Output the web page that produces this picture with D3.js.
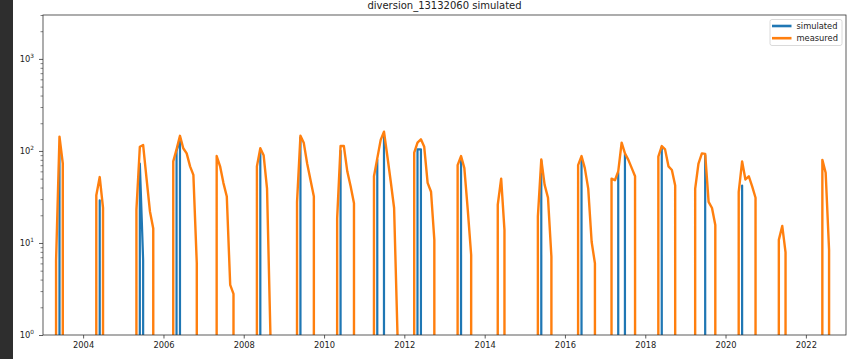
<!DOCTYPE html>
<html>
<head>
<meta charset="utf-8">
<script src="https://cdn.jsdelivr.net/npm/d3@7"></script>
<style>
  body { margin: 0; background: #fff; }
  svg { display: block; }
  text { font-family: "DejaVu Sans", sans-serif; fill: #222; }
</style>
</head>
<body>
<svg id="chart" width="852" height="359"></svg>
<script>
// ---- data -------------------------------------------------------------
const chartTitle = "diversion_13132060 simulated";
const seriesNames = ["simulated", "measured"];
const seriesColors = ["#1f77b4", "#ff7f0e"];
const xTickYears = [2004, 2006, 2008, 2010, 2012, 2014, 2016, 2018, 2020, 2022];
const yMajorTicks = [1, 10, 100, 1000];
const yTickExponents = ["0", "1", "2", "3"];
const yMinorTicks = [2,3,4,5,6,7,8,9, 20,30,40,50,60,70,80,90, 200,300,400,500,600,700,800,900, 2000,3000];

// monthly totals (month-end dates); 0 = no diversion that month
const simulated = [
  ["2003-04-30",0],["2003-05-31",110],["2003-06-30",0],
  ["2004-04-30",0],["2004-05-31",29],["2004-06-30",0],
  ["2005-04-30",0],["2005-05-31",73],["2005-06-30",6.5],["2005-07-31",0],
  ["2006-03-31",0],["2006-04-30",100],["2006-05-31",135],["2006-06-30",0],
  ["2008-04-30",0],["2008-05-31",98],["2008-06-30",0],
  ["2009-04-30",0],["2009-05-31",140],["2009-06-30",0],
  ["2010-04-30",0],["2010-05-31",100],["2010-06-30",0],
  ["2011-03-31",0],["2011-04-30",80],["2011-05-31",0],["2011-06-30",150],["2011-07-31",0],
  ["2012-03-31",0],["2012-04-30",104],["2012-05-31",104],["2012-06-30",0],
  ["2013-04-30",0],["2013-05-31",80],["2013-06-30",0],
  ["2015-04-30",0],["2015-05-31",78],["2015-06-30",0],
  ["2016-04-30",0],["2016-05-31",80],["2016-06-30",0],
  ["2017-03-31",0],["2017-04-30",58],["2017-05-31",0],["2017-06-30",92],["2017-07-31",0],
  ["2018-04-30",0],["2018-05-31",110],["2018-06-30",0],
  ["2019-05-31",0],["2019-06-30",90],["2019-07-31",0],
  ["2020-04-30",0],["2020-05-31",42],["2020-06-30",0]
];

const measured = [
  ["2003-03-31",0],["2003-04-30",6.5],["2003-05-31",143],["2003-06-30",73],["2003-07-31",0],
  ["2004-03-31",0],["2004-04-30",33],["2004-05-31",52],["2004-06-30",24],["2004-07-31",0],
  ["2005-03-31",0],["2005-04-30",23],["2005-05-31",111],["2005-06-30",116],["2005-07-31",50],["2005-08-31",22],["2005-09-30",14.4],["2005-10-31",0],
  ["2006-02-28",0],["2006-03-31",77],["2006-04-30",104],["2006-05-31",146],["2006-06-30",107],["2006-07-31",94],["2006-08-31",68],["2006-09-30",55],["2006-10-31",6],["2006-11-30",0],
  ["2007-03-31",0],["2007-04-30",88],["2007-05-31",68],["2007-06-30",45],["2007-07-31",32],["2007-08-31",3.5],["2007-09-30",2.8],["2007-10-31",0],
  ["2008-03-31",0],["2008-04-30",68],["2008-05-31",107],["2008-06-30",90],["2008-07-31",39],["2008-08-31",1.0],["2008-09-30",0],
  ["2009-03-31",0],["2009-04-30",28],["2009-05-31",146],["2009-06-30",123],["2009-07-31",73],["2009-08-31",48],["2009-09-30",32],["2009-10-31",0],
  ["2010-03-31",0],["2010-04-30",18.5],["2010-05-31",113],["2010-06-30",113],["2010-07-31",60],["2010-08-31",41],["2010-09-30",27],["2010-10-31",0],
  ["2011-02-28",0],["2011-03-31",53],["2011-04-30",83],["2011-05-31",132],["2011-06-30",162],["2011-07-31",87],["2011-08-31",46],["2011-09-30",24],["2011-10-31",1.0],["2011-11-30",0],
  ["2012-02-29",0],["2012-03-31",96],["2012-04-30",123],["2012-05-31",134],["2012-06-30",111],["2012-07-31",45],["2012-08-31",36],["2012-09-30",10.8],["2012-10-31",0],
  ["2013-03-31",0],["2013-04-30",70],["2013-05-31",88],["2013-06-30",65],["2013-07-31",23],["2013-08-31",7.4],["2013-09-30",0],
  ["2014-03-31",0],["2014-04-30",26],["2014-05-31",50],["2014-06-30",13.8],["2014-07-31",0],
  ["2015-03-31",0],["2015-04-30",19.3],["2015-05-31",81],["2015-06-30",43],["2015-07-31",31],["2015-08-31",7.1],["2015-09-30",0],
  ["2016-03-31",0],["2016-04-30",70],["2016-05-31",88],["2016-06-30",65],["2016-07-31",39],["2016-08-31",10.3],["2016-09-30",6.0],["2016-10-31",0],
  ["2017-01-31",0],["2017-02-28",50],["2017-03-31",48],["2017-04-30",60],["2017-05-31",123],["2017-06-30",94],["2017-07-31",80],["2017-08-31",65],["2017-09-30",53],["2017-10-31",0],
  ["2018-03-31",0],["2018-04-30",87],["2018-05-31",113],["2018-06-30",104],["2018-07-31",68],["2018-08-31",62],["2018-09-30",42],["2018-10-31",0],
  ["2019-02-28",0],["2019-03-31",39],["2019-04-30",73],["2019-05-31",94],["2019-06-30",93],["2019-07-31",28],["2019-08-31",24],["2019-09-30",15.7],["2019-10-31",0],
  ["2020-03-31",0],["2020-04-30",36],["2020-05-31",77],["2020-06-30",49],["2020-07-31",53],["2020-08-31",41],["2020-09-30",31],["2020-10-31",0],
  ["2021-03-31",0],["2021-04-30",10.8],["2021-05-31",15.3],["2021-06-30",7.9],["2021-07-31",0],
  ["2022-04-30",0],["2022-05-31",80],["2022-06-30",58],["2022-07-31",8.4],["2022-08-31",0]
];

// ---- layout -----------------------------------------------------------
const svg = d3.select("#chart");
const W = 852, H = 359;
const plot = { left: 43, right: 846, top: 15, bottom: 335 };
const parse = d3.utcParse("%Y-%m-%d");

const x = d3.scaleUtc()
  .domain([Date.UTC(2003, 0, 1), Date.UTC(2023, 0, 1)])
  .range([plot.left, plot.right]);
const y = d3.scaleLog()
  .domain([1, 3000])
  .range([plot.bottom, plot.top]);

// non-positive values are pushed far below the axis, as a log plot clips them
const yVal = v => v > 0 ? y(v) : y(1e-300);

svg.append("rect").attr("width", W).attr("height", H).attr("fill", "#fff");
// dark editor gutter along the left edge
svg.append("rect").attr("x", 0).attr("y", 0).attr("width", 13).attr("height", H).attr("fill", "#2e2e2e");

svg.append("clipPath").attr("id", "plotClip")
  .append("rect")
  .attr("x", plot.left).attr("y", plot.top)
  .attr("width", plot.right - plot.left).attr("height", plot.bottom - plot.top);

// ---- series lines -----------------------------------------------------
const line = d3.line()
  .x(d => x(parse(d[0])))
  .y(d => yVal(d[1]));

const lines = svg.append("g").attr("clip-path", "url(#plotClip)");
[simulated, measured].forEach((data, i) => {
  lines.append("path")
    .attr("d", line(data))
    .attr("fill", "none")
    .attr("stroke", seriesColors[i])
    .attr("stroke-width", i === 0 ? 2.2 : 2.4)
    .attr("stroke-linejoin", "round");
});

// ---- axes -------------------------------------------------------------
const axisColor = "#333";

const xAxis = d3.axisBottom(x)
  .tickValues(xTickYears.map(yr => new Date(Date.UTC(yr, 0, 1))))
  .tickFormat(d3.utcFormat("%Y"))
  .tickSize(3.5)
  .tickPadding(4);
const gx = svg.append("g").attr("transform", `translate(0,${plot.bottom})`).call(xAxis);
gx.select(".domain").remove();
gx.selectAll("line").attr("stroke", axisColor).attr("stroke-width", 0.8);
gx.selectAll("text")
  .attr("font-size", 8.3)
  .attr("font-family", "DejaVu Sans, sans-serif")
  .attr("fill", "#222");

const yMinorAxis = d3.axisLeft(y).tickValues(yMinorTicks).tickSize(2.5).tickFormat("");
const gyMinor = svg.append("g").attr("transform", `translate(${plot.left},0)`).call(yMinorAxis);
gyMinor.select(".domain").remove();
gyMinor.selectAll("line").attr("stroke", axisColor).attr("stroke-width", 0.6);

const yAxis = d3.axisLeft(y).tickValues(yMajorTicks).tickSize(4).tickFormat("");
const gy = svg.append("g").attr("transform", `translate(${plot.left},0)`).call(yAxis);
gy.select(".domain").remove();
gy.selectAll("line").attr("stroke", axisColor).attr("stroke-width", 0.8);

// 10^n labels with superscript exponents
yMajorTicks.forEach((v, i) => {
  const t = svg.append("text")
    .attr("x", plot.left - 9)
    .attr("y", y(v) + 3)
    .attr("text-anchor", "end")
    .attr("font-size", 8.3);
  t.append("tspan").text("10");
  t.append("tspan").attr("dy", -3.6).attr("font-size", 5.8).text(yTickExponents[i]);
});

// frame
svg.append("rect")
  .attr("x", plot.left).attr("y", plot.top)
  .attr("width", plot.right - plot.left).attr("height", plot.bottom - plot.top)
  .attr("fill", "none").attr("stroke", axisColor).attr("stroke-width", 0.8);

// title
svg.append("text")
  .attr("x", (plot.left + plot.right) / 2)
  .attr("y", 8.5)
  .attr("text-anchor", "middle")
  .attr("font-size", 10)
  .text(chartTitle);

// ---- legend -----------------------------------------------------------
const lg = svg.append("g").attr("transform", "translate(770,19.5)");
lg.append("rect")
  .attr("width", 72).attr("height", 26)
  .attr("rx", 2)
  .attr("fill", "#fff").attr("fill-opacity", 0.8)
  .attr("stroke", "#d0d0d0").attr("stroke-width", 0.8);
seriesNames.forEach((name, i) => {
  const cy = 6.5 + i * 12.2;
  lg.append("line")
    .attr("x1", 2).attr("x2", 21.5)
    .attr("y1", cy).attr("y2", cy)
    .attr("stroke", seriesColors[i]).attr("stroke-width", 2.6);
  lg.append("text")
    .attr("x", 26.5).attr("y", cy + 3)
    .attr("font-size", 8.3)
    .text(name);
});
</script>
</body>
</html>
